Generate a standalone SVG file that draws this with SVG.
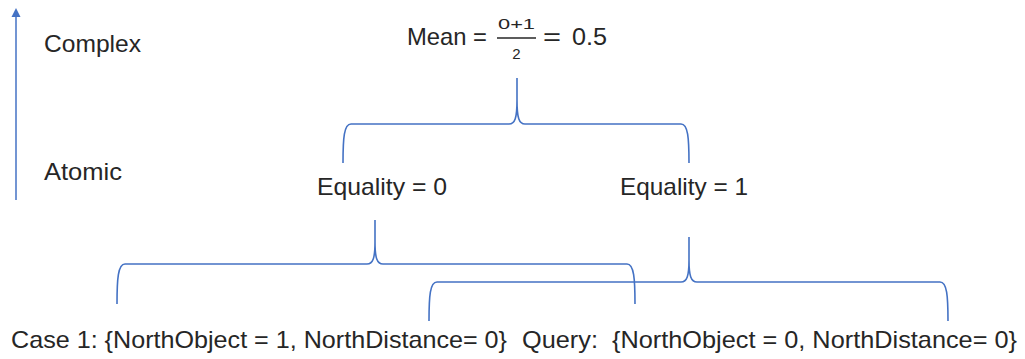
<svg xmlns="http://www.w3.org/2000/svg" width="1025" height="359" viewBox="0 0 1025 359">
<style>
  text { font-family: "Liberation Sans", Arial, sans-serif; fill: #262626; white-space: pre; }
  .lbl { font-size: 24px; }
  .small { font-size: 15px; }
  .brace { fill: none; stroke: #4472C4; stroke-width: 1.6; stroke-linejoin: round; stroke-linecap: butt; }
  .axis { fill: none; stroke: #4472C4; stroke-width: 1.5; }
</style>
<rect width="1025" height="359" fill="#ffffff"/>

<g id="axis">
  <line class="axis" x1="16" y1="200" x2="16" y2="15"/>
  <polygon points="16,8 20.5,17 11.5,17" fill="#4472C4"/>
</g>

<g id="label-complex">
  <text class="lbl" x="44" y="52" textLength="97" lengthAdjust="spacingAndGlyphs">Complex</text>
</g>
<g id="label-atomic">
  <text class="lbl" x="44" y="180" textLength="78" lengthAdjust="spacingAndGlyphs">Atomic</text>
</g>

<g id="node-mean">
  <text class="lbl" x="407" y="45" textLength="80" lengthAdjust="spacingAndGlyphs">Mean =</text>
  <text class="small" x="498" y="29" textLength="37" lengthAdjust="spacingAndGlyphs">0+1</text>
  <line x1="497" y1="38" x2="536" y2="38" stroke="#262626" stroke-width="1.4"/>
  <text class="small" x="516.5" y="59" text-anchor="middle">2</text>
  <text class="lbl" x="543" y="45" textLength="18" lengthAdjust="spacingAndGlyphs">=</text>
  <text class="lbl" x="572" y="45" textLength="35" lengthAdjust="spacingAndGlyphs">0.5</text>
</g>

<g id="node-eq0">
  <text class="lbl" x="317" y="195" textLength="130" lengthAdjust="spacingAndGlyphs">Equality = 0</text>
</g>
<g id="node-eq1">
  <text class="lbl" x="620" y="195" textLength="128" lengthAdjust="spacingAndGlyphs">Equality = 1</text>
</g>

<g id="node-case1">
  <text class="lbl" x="11" y="348" textLength="496" lengthAdjust="spacingAndGlyphs">Case 1: {NorthObject = 1, NorthDistance= 0}</text>
</g>
<g id="node-query">
  <text class="lbl" x="522" y="348" textLength="495" lengthAdjust="spacingAndGlyphs">Query:  {NorthObject = 0, NorthDistance= 0}</text>
</g>

<g id="connectors">
  <path class="brace" d="M343,163 C343,138 344,124 351,124 L509,124 C515,124 517,118 517,100 L517,78 M517,100 C517,118 519,124 525,124 L681,124 C688,124 689,138 689,163"/>
  <path class="brace" d="M117,304 C117,279 118,264 125,264 L367,264 C373,264 375,258 375,242 L375,220 M375,242 C375,258 377,264 383,264 L627,264 C634,264 635,279 635,304"/>
  <path class="brace" d="M429,321 C429,296 430,282 437,282 L681,282 C687,282 689,276 689,260 L689,237 M689,260 C689,276 691,282 697,282 L940,282 C947,282 948,296 948,321"/>
</g>
</svg>
